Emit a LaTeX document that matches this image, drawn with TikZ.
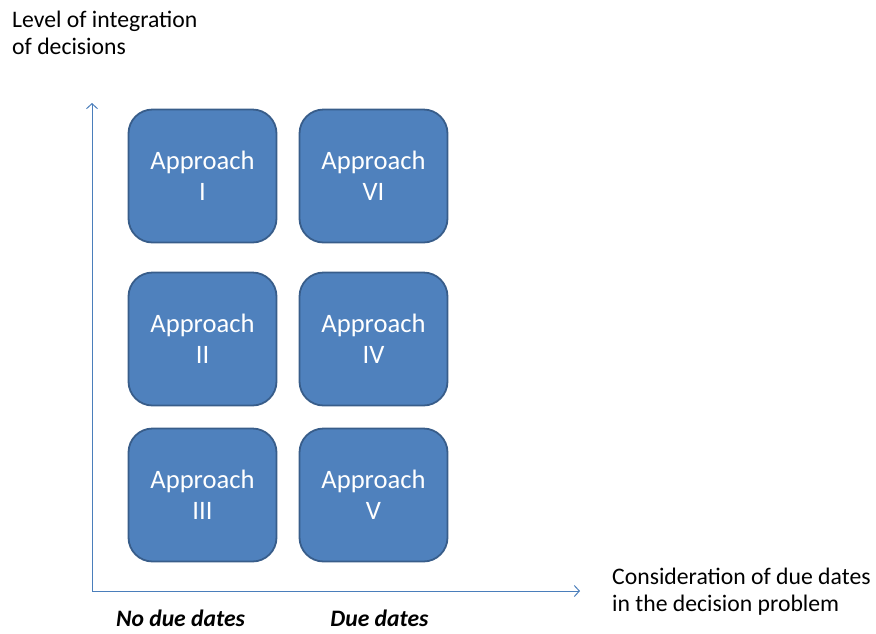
\documentclass[tikz,border=0pt]{standalone}
\usepackage{fontspec}
\setmainfont{Carlito}
\usetikzlibrary{arrows.meta}
\definecolor{boxfill}{HTML}{4F81BD}
\definecolor{boxline}{HTML}{385D8A}
\definecolor{axiscol}{HTML}{4A7EBB}
\begin{document}
\begin{tikzpicture}[x=1pt,y=-1pt,
  appbox/.style={draw=boxline, fill=boxfill, line width=1.8pt, rounded corners=24pt,
     minimum width=148pt, minimum height=133pt, text=white, align=center,
     font=\fontsize{26.6}{31.5}\selectfont, inner sep=0pt},
  axis/.style={draw=axiscol, line width=1pt, -{Straight Barb[length=5pt,width=11pt]}},
  lbl/.style={font=\fontsize{23.7}{27.5}\selectfont, align=left, inner sep=0pt},
  bl/.style={font=\fontsize{23.6}{28}\selectfont\bfseries\itshape, inner sep=0pt}]
\useasboundingbox (0,0) rectangle (876,633);
\node[appbox] (a1) at (202.5,176) {Approach\\I};
\node[appbox] (a6) at (373.5,176) {Approach\\VI};
\node[appbox] (a2) at (202.5,339) {Approach\\II};
\node[appbox] (a4) at (373.5,339) {Approach\\IV};
\node[appbox] (a3) at (202.5,495) {Approach\\III};
\node[appbox] (a5) at (373.5,495) {Approach\\V};
\coordinate (o) at (92,591);
\coordinate (yt) at (92,103);
\coordinate (xt) at (580,591);
\draw[axis] (o) -- (yt);
\draw[axis] (o) -- (xt);
\node[lbl, anchor=north west] (ylab) at (12,10.5) {Level of integration\\of decisions};
\node[lbl, anchor=north west] (xlab) at (612,567.5) {Consideration of due dates\\in the decision problem};
\node[bl] (nd) at (180.5,618) {No due dates};
\node[bl] (dd) at (379.5,618) {Due dates};
\end{tikzpicture}
\end{document}
